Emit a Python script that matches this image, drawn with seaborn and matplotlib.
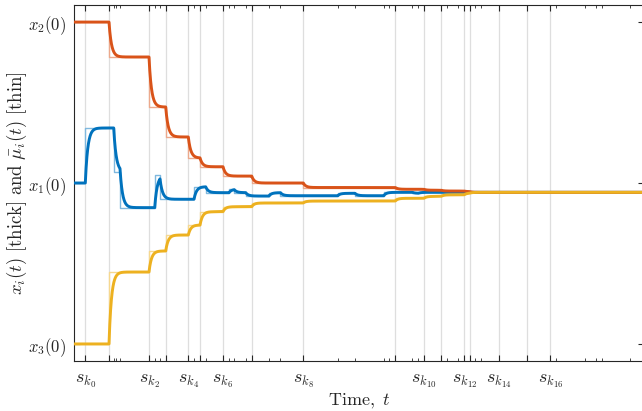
import numpy as np
import pandas as pd
import matplotlib
matplotlib.use("Agg")
import matplotlib.pyplot as plt
import seaborn as sns

# event instants s_k (major ticks + grey lines)
s_k = [1.13, 3.5, 7.5, 9.17, 11.43, 12.6, 14.9, 17.77, 22.93, 32.13,
       35.0, 36.73, 39.03, 39.57, 42.47, 45.33, 47.63]
# other local update instants (minor ticks)
t_minor = [3.97, 4.23, 4.6, 8.07, 8.6, 12.0, 13.17, 15.5, 16.03, 17.17,
           19.5, 20.65, 26.37, 28.1, 30.97, 31.55, 33.85, 34.45, 37.27,
           38.43, 40.15, 40.73, 48.2, 51.1, 52.22, 52.8, 55.65]
s_labels = [r"$s_{k_{%d}}$" % i if i % 2 == 0 else "" for i in range(len(s_k))]

# mu_bar_i(t): switching times and levels (piecewise constant)
t_mu1 = [0, 1.13, 3.97, 4.6, 8.07, 8.6, 12.0, 13.17, 15.5, 16.03, 17.17,
         19.5, 20.65, 26.37, 28.1, 30.97, 33.85, 34.45]
mu1 = [0.0, 0.342, 0.068, -0.153, 0.05, -0.101, -0.023, -0.06, -0.039, -0.06,
       -0.081, -0.06, -0.079, -0.064, -0.079, -0.058, -0.064, -0.058]

t_mu2 = [0, 3.5, 7.5, 9.17, 11.43, 12.6, 14.9, 17.77, 22.93, 32.13, 35.0,
         36.73, 39.03, 39.57]
mu2 = [1.0, 0.783, 0.472, 0.286, 0.155, 0.101, 0.043, 0.0, -0.028, -0.039,
       -0.045, -0.05, -0.054, -0.058]

t_mu3 = [0, 3.5, 7.5, 9.17, 11.43, 12.6, 14.9, 17.77, 22.93, 32.13, 35.0,
         36.73, 39.03, 39.57]
mu3 = [-1.0, -0.553, -0.422, -0.323, -0.261, -0.178, -0.147, -0.124, -0.112,
       -0.095, -0.083, -0.073, -0.062, -0.058]

t_end = 57.0
tau = 0.25  # time constant of the agents' response x_i -> mu_bar_i

colors = {"1": "#0072BD", "2": "#D95319", "3": "#EDB120"}
light = {"1": "#7fb8de", "2": "#eca98c", "3": "#f6d88f"}

t = np.arange(0, t_end + 0.005, 0.01)


def follow(tm, mv):
    idx = np.searchsorted(tm, t, side="right") - 1
    ref = np.asarray(mv)[idx]
    x = np.empty_like(ref)
    x[0] = ref[0]
    a = 1 - np.exp(-0.01 / tau)
    for j in range(1, len(t)):
        x[j] = x[j - 1] + (ref[j - 1] - x[j - 1]) * a
    return x


sns.set_theme(style="white")
plt.rcParams["mathtext.fontset"] = "cm"
plt.rcParams["font.family"] = ["DejaVu Serif"]

fig = plt.figure(figsize=(6.42, 4.11), dpi=100)
ax = fig.add_axes([74 / 642, 50 / 411, 570 / 642, 356 / 411])

for s in s_k:
    ax.axvline(s, color="#dedede", lw=0.9, zorder=0)

agents = [("1", t_mu1, mu1), ("2", t_mu2, mu2), ("3", t_mu3, mu3)]
for name, tm, mv in agents:
    thin = pd.DataFrame({"t": list(tm) + [t_end], "mu": list(mv) + [mv[-1]]})
    sns.lineplot(data=thin, x="t", y="mu", ax=ax, color=light[name], lw=1.0,
                 drawstyle="steps-post", estimator=None, sort=False, zorder=2)
for name, tm, mv in agents:
    thick = pd.DataFrame({"t": t, "x": follow(tm, mv)})
    sns.lineplot(data=thick, x="t", y="x", ax=ax, color=colors[name], lw=2.1,
                 estimator=None, sort=False, zorder=3)

ax.set_xlim(0, t_end)
ax.set_ylim(-1.106, 1.106)
ax.set_xticks(s_k)
ax.set_xticklabels(s_labels)
ax.set_xticks(t_minor, minor=True)
ax.set_yticks([-1, 0, 1])
ax.set_yticklabels([r"$x_3(0)$", r"$x_1(0)$", r"$x_2(0)$"])

ax.tick_params(axis="x", which="major", direction="in", length=4.5, width=0.8,
               top=True, bottom=True, labelsize=13, pad=8, colors="#262626")
ax.tick_params(axis="x", which="minor", direction="in", length=2.4, width=0.6,
               top=True, bottom=True, colors="#262626")
ax.tick_params(axis="y", which="major", direction="in", length=4.5, width=0.8,
               left=True, right=True, labelsize=12, pad=6, colors="#262626")

for side in ["left", "bottom", "top", "right"]:
    ax.spines[side].set_color("#262626")
    ax.spines[side].set_linewidth(0.8)

ax.set_xlabel(r"$\mathrm{Time,}\ t$", fontsize=13, labelpad=1, color="#262626")
ax.set_ylabel(r"$x_i(t)\ \mathrm{[thick]\ and}\ \bar{\mu}_i(t)\ \mathrm{[thin]}$",
              fontsize=13.5, labelpad=-1, color="#262626")

fig.savefig("out.png", dpi=100)
